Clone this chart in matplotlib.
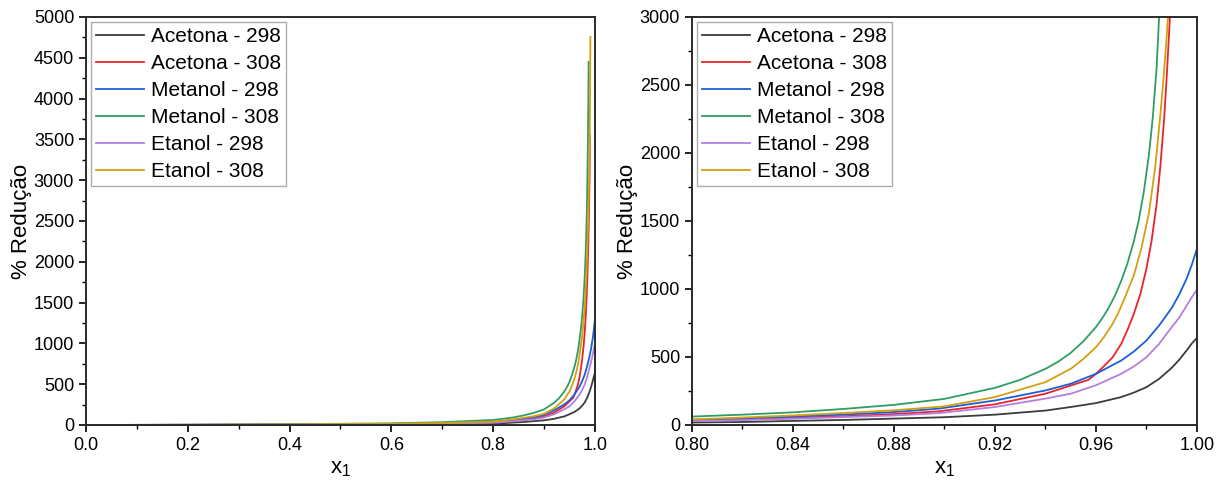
import matplotlib.pyplot as plt
from matplotlib.ticker import MultipleLocator

plt.rcParams['font.family'] = ['Liberation Sans', 'DejaVu Sans']
plt.rcParams['mathtext.fontset'] = 'custom'
plt.rcParams['mathtext.rm'] = 'Liberation Sans'
plt.rcParams['mathtext.it'] = 'Liberation Sans'

# % redução vs x1 for each solvent / temperature
acetona_298_x = [0.0, 0.2, 0.4, 0.6, 0.7, 0.80, 0.82, 0.84, 0.86, 0.88, 0.90, 0.92, 0.94, 0.95,
                 0.96, 0.97, 0.975, 0.98, 0.985, 0.99, 0.993, 0.996, 0.998, 1.0]
acetona_298_y = [0, 1, 3, 7, 11, 18, 22, 30, 37, 47, 57, 76, 106, 132,
                 161, 205, 238, 278, 339, 420, 480, 550, 600, 640]

acetona_308_x = [0.0, 0.2, 0.4, 0.6, 0.7, 0.80, 0.82, 0.84, 0.86, 0.88, 0.8976, 0.92, 0.94, 0.95,
                 0.957, 0.96, 0.9633, 0.9666, 0.97, 0.9725, 0.975, 0.9776, 0.98, 0.982, 0.984,
                 0.9855, 0.987, 0.988, 0.9893, 0.990]
acetona_308_y = [0, 2, 5, 11, 18, 32, 40, 52, 64, 80, 100, 152, 230, 290,
                 332, 376, 435, 498, 596, 700, 817, 964, 1150, 1350, 1620,
                 1900, 2250, 2550, 3000, 3550]

metanol_298_x = [0.0, 0.2, 0.4, 0.6, 0.7, 0.80, 0.82, 0.84, 0.86, 0.88, 0.8976, 0.92, 0.94, 0.95,
                 0.96, 0.97, 0.975, 0.98, 0.985, 0.99, 0.993, 0.996, 0.998, 1.0]
metanol_298_y = [0, 2, 6, 13, 22, 38, 48, 62, 76, 95, 120, 180, 254, 303,
                 376, 474, 540, 621, 731, 860, 960, 1080, 1180, 1295]

metanol_308_x = [0.0, 0.2, 0.4, 0.6, 0.7, 0.80, 0.82, 0.84, 0.86, 0.88, 0.90, 0.92, 0.93, 0.94,
                 0.945, 0.95, 0.955, 0.96, 0.9625, 0.965, 0.9675, 0.97, 0.9725, 0.975, 0.977,
                 0.979, 0.981, 0.9825, 0.984, 0.985, 0.986, 0.987, 0.9875]
metanol_308_y = [0, 3, 9, 20, 34, 62, 76, 93, 118, 148, 192, 273, 332, 413,
                 465, 530, 615, 720, 785, 860, 950, 1060, 1190, 1350, 1510,
                 1720, 1990, 2260, 2620, 3000, 3450, 4000, 4449]

etanol_298_x = [0.0, 0.2, 0.4, 0.6, 0.7, 0.80, 0.82, 0.84, 0.86, 0.88, 0.8976, 0.92, 0.94, 0.95,
                0.96, 0.97, 0.975, 0.98, 0.985, 0.99, 0.993, 0.996, 0.998, 1.0]
etanol_298_y = [0, 2, 4, 10, 16, 28, 36, 46, 58, 70, 87, 132, 194, 230,
                292, 376, 430, 498, 596, 719, 790, 880, 940, 995]

etanol_308_x = [0.0, 0.2, 0.4, 0.6, 0.7, 0.80, 0.82, 0.84, 0.86, 0.88, 0.90, 0.92, 0.94, 0.95,
                0.955, 0.96, 0.9633, 0.9666, 0.969, 0.9715, 0.975, 0.978, 0.981, 0.9835, 0.9855,
                0.9868, 0.9878, 0.9886, 0.9895, 0.9903, 0.991]
etanol_308_y = [0, 2, 6, 14, 24, 41, 55, 70, 88, 108, 137, 205, 315, 413,
                485, 572, 650, 743, 830, 939, 1100, 1300, 1560, 1900, 2280,
                2560, 2800, 3020, 3400, 4000, 4755]

series = [
    ('Acetona - 298', acetona_298_x, acetona_298_y, '#3c3c3c'),
    ('Acetona - 308', acetona_308_x, acetona_308_y, '#e8242c'),
    ('Metanol - 298', metanol_298_x, metanol_298_y, '#1c5fd4'),
    ('Metanol - 308', metanol_308_x, metanol_308_y, '#2e9e64'),
    ('Etanol - 298', etanol_298_x, etanol_298_y, '#b37fe0'),
    ('Etanol - 308', etanol_308_x, etanol_308_y, '#d4a010'),
]

fig = plt.figure(figsize=(12.25, 4.82), dpi=100)
ax1 = fig.add_axes([0.0702, 0.1183, 0.4155, 0.8465])
ax2 = fig.add_axes([0.5649, 0.1183, 0.4122, 0.8465])

for ax in (ax1, ax2):
    for label, xs, ys, color in series:
        ax.plot(xs, ys, '-', color=color, lw=1.3, label=label)
    for side in ax.spines.values():
        side.set_linewidth(1.4)
        side.set_color('#2a2a2a')
    ax.tick_params(which='major', direction='out', length=5, width=1.2, labelsize=13,
                   top=False, right=False)
    ax.tick_params(which='minor', direction='out', length=3, width=1.0,
                   top=False, right=False)
    ax.set_xlabel(r'x$_\mathregular{1}$', fontsize=16, labelpad=3)
    ax.set_ylabel('% Redução', fontsize=16, labelpad=1)
    ax.yaxis.set_major_locator(MultipleLocator(500))
    ax.yaxis.set_minor_locator(MultipleLocator(250))
    leg = ax.legend(loc='upper left', fontsize=15, frameon=True, fancybox=False,
                    handlelength=2.3, handletextpad=0.3, labelspacing=0.38,
                    borderpad=0.25, borderaxespad=0.25)
    leg.get_frame().set_edgecolor('#999999')
    leg.get_frame().set_linewidth(1.0)

ax1.set_xlim(0.0, 1.0)
ax1.set_ylim(0, 5000)
ax1.xaxis.set_major_locator(MultipleLocator(0.2))
ax1.xaxis.set_minor_locator(MultipleLocator(0.1))
ax1.xaxis.set_major_formatter(plt.FormatStrFormatter('%.1f'))

ax2.set_xlim(0.80, 1.00)
ax2.set_ylim(0, 3000)
ax2.xaxis.set_major_locator(MultipleLocator(0.04))
ax2.xaxis.set_minor_locator(MultipleLocator(0.02))
ax2.xaxis.set_major_formatter(plt.FormatStrFormatter('%.2f'))

fig.savefig('out.png', dpi=100)
